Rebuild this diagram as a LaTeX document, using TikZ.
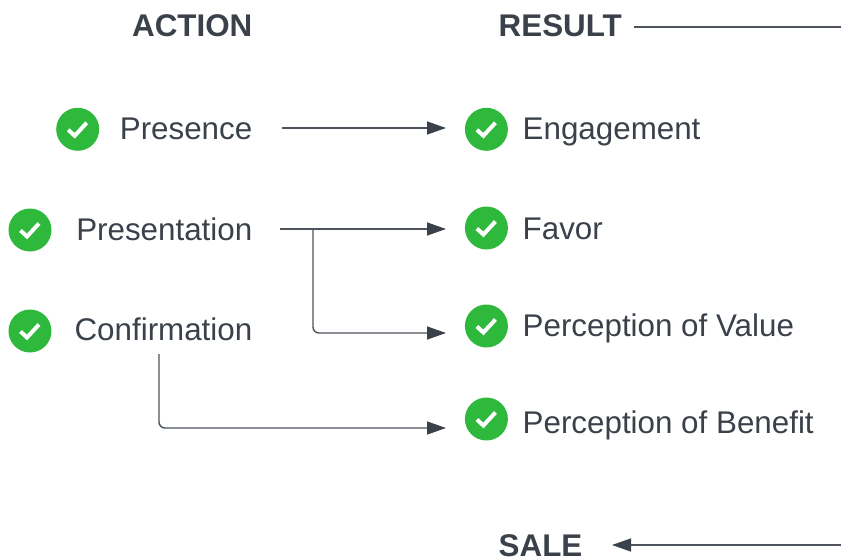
\documentclass[tikz,border=0pt]{standalone}
\usepackage{fontspec}
\setmainfont{Liberation Sans}
\usetikzlibrary{arrows.meta}
\definecolor{ink}{HTML}{3A414A}
\definecolor{wire}{HTML}{4C535D}
\definecolor{okgreen}{HTML}{2EB83C}
\tikzset{
  lbl/.style={font=\fontsize{31.35}{31.35}\selectfont,text=ink,inner sep=0pt},
  head/.style={lbl,font=\fontsize{31.35}{31.35}\selectfont\bfseries},
  arr/.style={draw=wire,line width=1.4pt,rounded corners=6pt,-{Triangle[length=19pt,width=13pt,color=ink]}},
  plainwire/.style={draw=wire,line width=1.4pt},
  tick/.style={circle,fill=okgreen,minimum size=43pt,inner sep=0pt,outer sep=0pt,
    path picture={\draw[white,line width=4pt]
      ([shift={(-9.5pt,-0.5pt)}]path picture bounding box.center) --
      ([shift={(-3pt,-6.5pt)}]path picture bounding box.center) --
      ([shift={(9pt,6.5pt)}]path picture bounding box.center);}}
}
\begin{document}
\begin{tikzpicture}[x=1pt,y=-1pt]
\useasboundingbox (0,0) rectangle (841,559);
% headings
\node[head,anchor=base east] (action) at (252.5,37) {ACTION};
\node[head,anchor=base west] (result) at (498.5,37) {RESULT};
\node[head,anchor=base west] (sale) at (498.5,556) {SALE};
% left column
\node[tick] (t1) at (77.7,129.3) {};
\node[tick] (t2) at (30,230) {};
\node[tick] (t3) at (30,331) {};
\node[lbl,anchor=base east] (presence) at (252.5,140) {Presence};
\node[lbl,anchor=base east] (presentation) at (252.5,240) {Presentation};
\node[lbl,anchor=base east] (confirmation) at (252.5,340) {Confirmation};
% right column
\node[tick] (r1) at (486.4,129.3) {};
\node[tick] (r2) at (486.4,228) {};
\node[tick] (r3) at (486.4,326) {};
\node[tick] (r4) at (486.4,419) {};
\node[lbl,anchor=base west] (engagement) at (522.5,140) {Engagement};
\node[lbl,anchor=base west] (favor) at (522.5,239.5) {Favor};
\node[lbl,anchor=base west] (value) at (522.5,336) {Perception of Value};
\node[lbl,anchor=base west] (benefit) at (522.5,433) {Perception of Benefit};
% connector ends
\coordinate (c1s) at (282,128);
\coordinate (c1e) at (446,128);
\coordinate (c2s) at (280,229);
\coordinate (c2e) at (446,229);
\coordinate (c2b) at (313,229);
\coordinate (c3e) at (446,333);
\coordinate (c4s) at (159,354);
\coordinate (c4e) at (446,428);
\coordinate (rs) at (634,27);
\coordinate (re) at (841,27);
\coordinate (ss) at (841,545);
\coordinate (se) at (612,545);
% connectors
\draw[arr] (c1s) -- (c1e);
\draw[arr] (c2s) -- (c2e);
\draw[arr] (c2b) |- (c3e);
\draw[arr] (c4s) |- (c4e);
\draw[plainwire] (rs) -- (re);
\draw[arr] (ss) -- (se);
\end{tikzpicture}
\end{document}
